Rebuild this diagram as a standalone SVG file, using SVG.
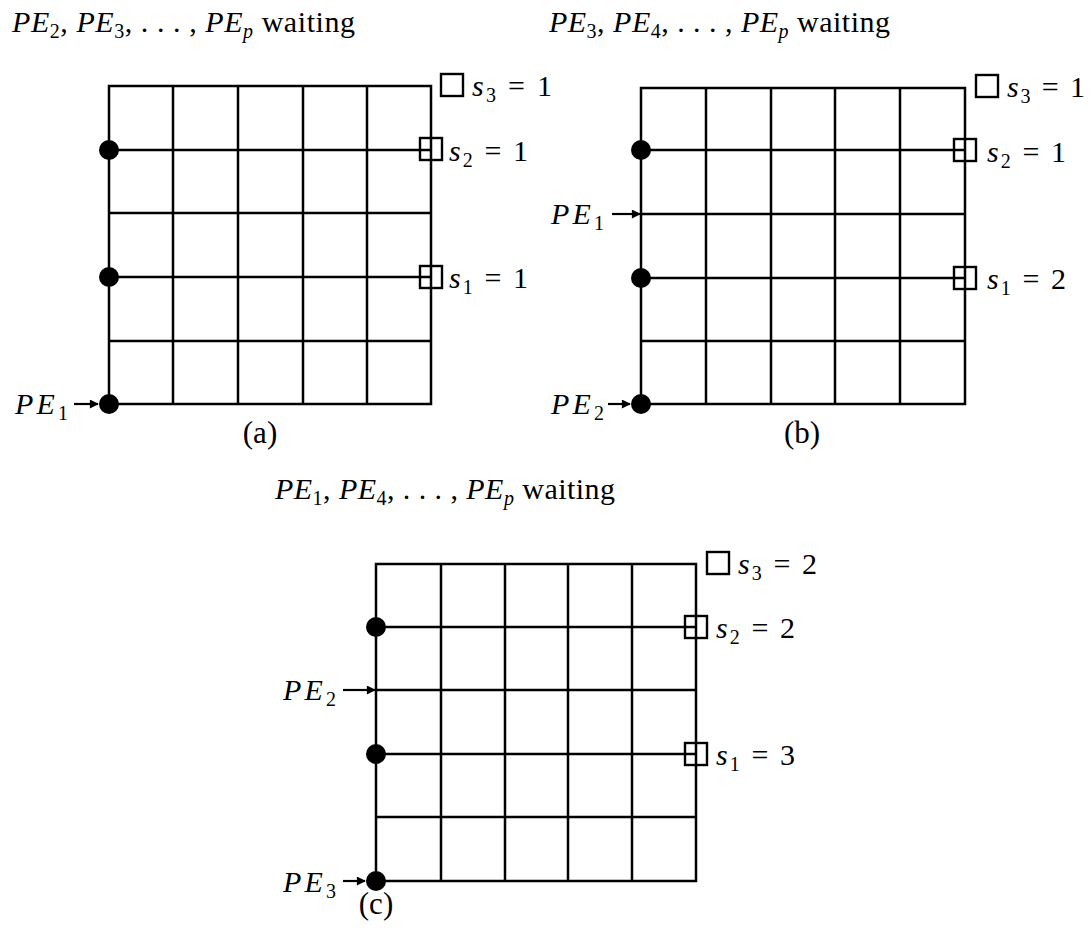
<svg xmlns="http://www.w3.org/2000/svg" width="1091" height="932" viewBox="0 0 1091 932" font-family="'Liberation Serif', 'Times New Roman', serif">
<defs>
<style>
.g{stroke:#000;stroke-width:2.5;fill:none;stroke-linecap:square}
.a{stroke:#000;stroke-width:2.2;fill:none}
.sq{stroke:#000;stroke-width:2.4;fill:none}
.dot{fill:#000}
text{font-family:'Liberation Serif','Times New Roman',serif;font-size:30px;fill:#000}
.i{font-style:italic}
.s{font-size:20px;font-style:normal}
.si{font-size:20px;font-style:italic}
.cap{font-size:31px}
</style>
<marker id="ah" viewBox="0 0 10 10" refX="9" refY="5" markerWidth="11" markerHeight="9" markerUnits="userSpaceOnUse" orient="auto">
<path d="M0,0 L10,5 L0,10 Z" fill="#000"/>
</marker>
</defs>
<rect width="1091" height="932" fill="#fff"/>

<!-- panel (a) -->
<g id="title-a"><text x="12" y="32" textLength="343" lengthAdjust="spacing"><tspan class="i">PE</tspan><tspan class="s" dy="6">2</tspan><tspan dy="-6">, </tspan><tspan class="i">PE</tspan><tspan class="s" dy="6">3</tspan><tspan dy="-6">, . . . , </tspan><tspan class="i">PE</tspan><tspan class="si" dy="6">p</tspan><tspan dy="-6"> waiting</tspan></text></g>
<g id="grid-a">
<path class="g" d="M109,86H431M109,150H431M109,213H431M109,277H431M109,341H431M109,404H431M109,86V404M173,86V404M238,86V404M303,86V404M367,86V404M431,86V404"/>
</g>
<g id="dots-a"><circle class="dot" cx="109" cy="150" r="10"/><circle class="dot" cx="109" cy="277" r="10"/><circle class="dot" cx="109" cy="404" r="10"/></g>
<g id="sq-a">
<rect class="sq" x="441" y="74" width="22" height="22"/>
<rect class="sq" x="420" y="138" width="22" height="22"/>
<rect class="sq" x="420" y="266" width="22" height="22"/>
</g>
<g id="lbl-a">
<text x="472" y="96" textLength="80" lengthAdjust="spacing"><tspan class="i">s</tspan><tspan class="s" dy="6">3</tspan><tspan dy="-6"> = 1</tspan></text>
<text x="449" y="161" textLength="79" lengthAdjust="spacing"><tspan class="i">s</tspan><tspan class="s" dy="6">2</tspan><tspan dy="-6"> = 1</tspan></text>
<text x="449" y="288" textLength="79" lengthAdjust="spacing"><tspan class="i">s</tspan><tspan class="s" dy="6">1</tspan><tspan dy="-6"> = 1</tspan></text>
<text x="15" y="414" textLength="53" lengthAdjust="spacing"><tspan class="i">PE</tspan><tspan class="s" dy="6">1</tspan></text>
<text class="cap" x="260" y="443" text-anchor="middle">(a)</text>
</g>

<!-- panel (b) -->
<g id="title-b"><text x="549" y="32" textLength="341" lengthAdjust="spacing"><tspan class="i">PE</tspan><tspan class="s" dy="6">3</tspan><tspan dy="-6">, </tspan><tspan class="i">PE</tspan><tspan class="s" dy="6">4</tspan><tspan dy="-6">, . . . , </tspan><tspan class="i">PE</tspan><tspan class="si" dy="6">p</tspan><tspan dy="-6"> waiting</tspan></text></g>
<g id="grid-b">
<path class="g" d="M641,88H965M641,150H965M641,214H965M641,278H965M641,341H965M641,404H965M641,88V404M706,88V404M771,88V404M835,88V404M900,88V404M965,88V404"/>
</g>
<g id="dots-b"><circle class="dot" cx="641" cy="150" r="10"/><circle class="dot" cx="641" cy="278" r="10"/><circle class="dot" cx="641" cy="404" r="10"/></g>
<g id="sq-b">
<rect class="sq" x="976" y="75" width="22" height="22"/>
<rect class="sq" x="954" y="139" width="22" height="22"/>
<rect class="sq" x="954" y="267" width="22" height="22"/>
</g>
<g id="lbl-b">
<text x="1007" y="97" textLength="78" lengthAdjust="spacing"><tspan class="i">s</tspan><tspan class="s" dy="6">3</tspan><tspan dy="-6"> = 1</tspan></text>
<text x="987" y="162" textLength="79" lengthAdjust="spacing"><tspan class="i">s</tspan><tspan class="s" dy="6">2</tspan><tspan dy="-6"> = 1</tspan></text>
<text x="987" y="289" textLength="79" lengthAdjust="spacing"><tspan class="i">s</tspan><tspan class="s" dy="6">1</tspan><tspan dy="-6"> = 2</tspan></text>
<text x="551" y="224" textLength="53" lengthAdjust="spacing"><tspan class="i">PE</tspan><tspan class="s" dy="6">1</tspan></text>
<text x="551" y="414" textLength="53" lengthAdjust="spacing"><tspan class="i">PE</tspan><tspan class="s" dy="6">2</tspan></text>
<text class="cap" x="802" y="443" text-anchor="middle">(b)</text>
</g>

<!-- panel (c) -->
<g id="title-c"><text x="275" y="499" textLength="340" lengthAdjust="spacing"><tspan class="i">PE</tspan><tspan class="s" dy="6">1</tspan><tspan dy="-6">, </tspan><tspan class="i">PE</tspan><tspan class="s" dy="6">4</tspan><tspan dy="-6">, . . . , </tspan><tspan class="i">PE</tspan><tspan class="si" dy="6">p</tspan><tspan dy="-6"> waiting</tspan></text></g>
<g id="grid-c">
<path class="g" d="M376,564H696M376,627H696M376,690H696M376,754H696M376,817H696M376,881H696M376,564V881M441,564V881M505,564V881M568,564V881M632,564V881M696,564V881"/>
</g>
<g id="dots-c"><circle class="dot" cx="376" cy="627" r="10"/><circle class="dot" cx="376" cy="754" r="10"/><circle class="dot" cx="376" cy="881" r="10"/></g>
<g id="sq-c">
<rect class="sq" x="707" y="552" width="22" height="22"/>
<rect class="sq" x="685" y="616" width="22" height="22"/>
<rect class="sq" x="685" y="743" width="22" height="22"/>
</g>
<g id="lbl-c">
<text x="738" y="574" textLength="79" lengthAdjust="spacing"><tspan class="i">s</tspan><tspan class="s" dy="6">3</tspan><tspan dy="-6"> = 2</tspan></text>
<text x="716" y="638" textLength="79" lengthAdjust="spacing"><tspan class="i">s</tspan><tspan class="s" dy="6">2</tspan><tspan dy="-6"> = 2</tspan></text>
<text x="716" y="765" textLength="79" lengthAdjust="spacing"><tspan class="i">s</tspan><tspan class="s" dy="6">1</tspan><tspan dy="-6"> = 3</tspan></text>
<text x="283" y="700" textLength="53" lengthAdjust="spacing"><tspan class="i">PE</tspan><tspan class="s" dy="6">2</tspan></text>
<text x="283" y="892" textLength="53" lengthAdjust="spacing"><tspan class="i">PE</tspan><tspan class="s" dy="6">3</tspan></text>
<text class="cap" x="376" y="914" text-anchor="middle">(c)</text>
</g>

<g id="connectors">
<line class="a" x1="74" y1="404" x2="98" y2="404" marker-end="url(#ah)"/>
<line class="a" x1="612" y1="214" x2="640" y2="214" marker-end="url(#ah)"/>
<line class="a" x1="608" y1="404" x2="630" y2="404" marker-end="url(#ah)"/>
<line class="a" x1="343" y1="690" x2="375" y2="690" marker-end="url(#ah)"/>
<line class="a" x1="343" y1="881" x2="365" y2="881" marker-end="url(#ah)"/>
</g>
</svg>
